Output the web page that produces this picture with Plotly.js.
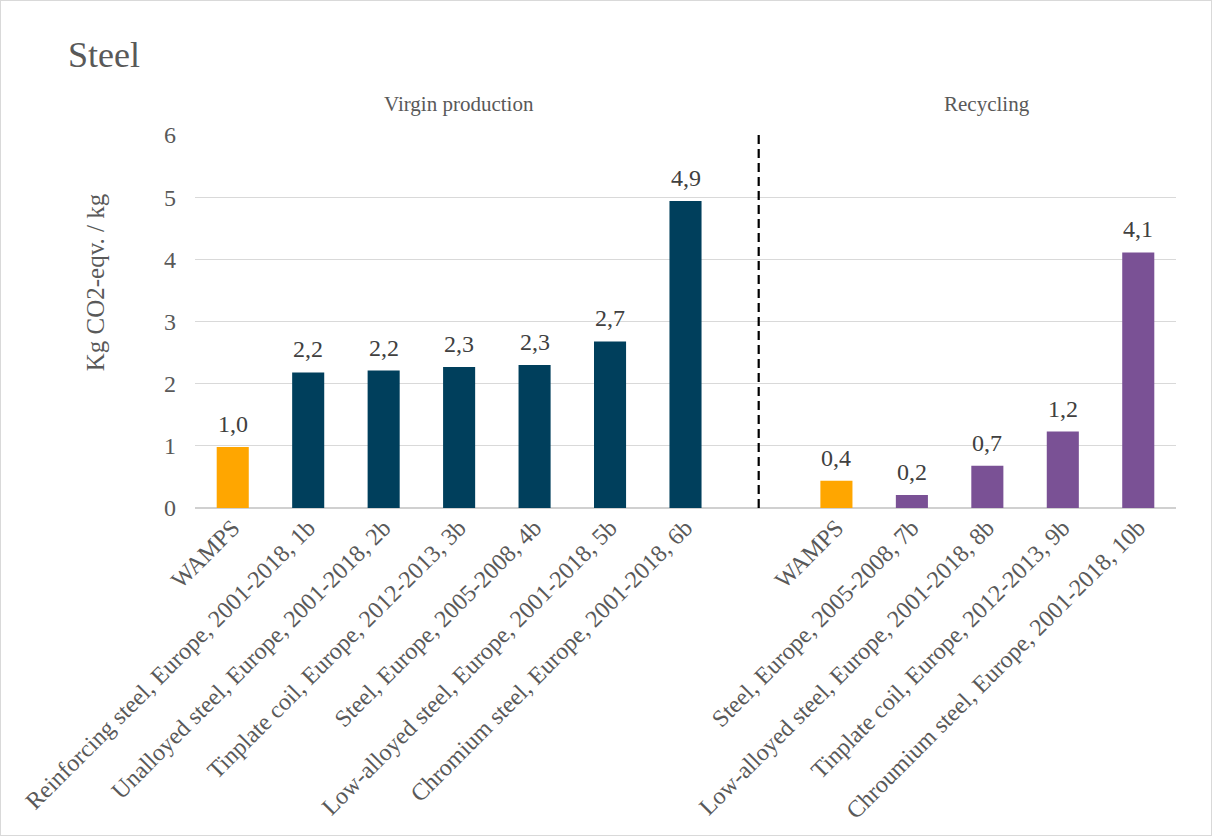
<!DOCTYPE html>
<html>
<head>
<meta charset="utf-8">
<script src="https://cdn.plot.ly/plotly-3.0.1.min.js"></script>
<style>
  html, body { margin: 0; padding: 0; background: #fff; }
  #chart { width: 1210px; height: 834px; border: 1px solid #d9d9d9; }
</style>
</head>
<body>
<div id="chart"></div>
<script>
// ---- data ----
const virginLabels = [
  "WAMPS",
  "Reinforcing steel, Europe, 2001-2018, 1b",
  "Unalloyed steel, Europe, 2001-2018, 2b",
  "Tinplate coil, Europe, 2012-2013, 3b",
  "Steel, Europe, 2005-2008, 4b",
  "Low-alloyed steel, Europe, 2001-2018, 5b",
  "Chromium steel, Europe, 2001-2018, 6b"
];
const virginValues = [0.98, 2.18, 2.21, 2.27, 2.30, 2.68, 4.94];

const recyclingLabels = [
  "WAMPS",
  "Steel, Europe, 2005-2008, 7b",
  "Low-alloyed steel, Europe, 2001-2018, 8b",
  "Tinplate coil, Europe, 2012-2013, 9b",
  "Chroumium steel, Europe, 2001-2018, 10b"
];
const recyclingValues = [0.44, 0.21, 0.68, 1.23, 4.11];

const groupLabels = ["Virgin production", "Recycling"];
const yTickValues = [0, 1, 2, 3, 4, 5, 6];
const chartTitle = "Steel";
const yAxisTitle = "Kg CO2-eqv. / kg";

// ---- styles ----
const FONT = '"Liberation Serif", "Times New Roman", Times, serif';
const C_WAMPS = "#ffa600";
const C_VIRGIN = "#003f5c";
const C_RECYC = "#7a5195";
const C_TEXT = "#595959";
const C_VAL = "#404040";

const virginKeys = virginLabels.map((_, i) => "v" + i);
const recyclingKeys = recyclingLabels.map((_, i) => "r" + i);
const gapKey = "gap";
const allKeys = [...virginKeys, gapKey, ...recyclingKeys];
const allText = [...virginLabels, "", ...recyclingLabels];

const colorFor = (labels, base) => labels.map(l => l === "WAMPS" ? C_WAMPS : base);

const traces = [
  {
    type: "bar",
    x: virginKeys,
    y: virginValues,
    marker: { color: colorFor(virginLabels, C_VIRGIN) },
    hoverinfo: "y",
    showlegend: false
  },
  {
    type: "bar",
    x: recyclingKeys,
    y: recyclingValues,
    marker: { color: colorFor(recyclingLabels, C_RECYC) },
    hoverinfo: "y",
    showlegend: false
  }
];

const fmt = v => v.toFixed(1).replace(".", ",");
const valueAnnotations = [
  ...virginKeys.map((k, i) => ({ x: k, y: virginValues[i], text: fmt(virginValues[i]) })),
  ...recyclingKeys.map((k, i) => ({ x: k, y: recyclingValues[i], text: fmt(recyclingValues[i]) }))
].map(a => Object.assign(a, {
  xref: "x", yref: "y", showarrow: false, yanchor: "bottom", yshift: 8,
  font: { family: FONT, size: 24, color: C_VAL }
}));

const gapIndex = virginLabels.length;
const groupAnnotations = [
  { x: (virginLabels.length - 1) / 2, text: groupLabels[0] },
  { x: gapIndex + 1 + (recyclingLabels.length - 1) / 2, text: groupLabels[1] }
].map(a => Object.assign(a, {
  xref: "x", yref: "paper", y: 1.083, yanchor: "middle", showarrow: false,
  font: { family: FONT, size: 21, color: C_TEXT }
}));

const yTitleAnnotation = {
  xref: "paper", yref: "paper", x: -0.102, y: 0.605,
  xanchor: "center", yanchor: "middle", textangle: -90, showarrow: false,
  text: yAxisTitle, font: { family: FONT, size: 25, color: C_TEXT }
};

const layout = {
  width: 1210,
  height: 834,
  paper_bgcolor: "#ffffff",
  plot_bgcolor: "#ffffff",
  margin: { l: 194, r: 35, t: 134, b: 327, pad: 0 },
  font: { family: FONT, color: C_TEXT },
  title: {
    text: chartTitle,
    xref: "container", yref: "container",
    x: 67 / 1210, xanchor: "left",
    y: 1 - 53 / 834, yanchor: "middle",
    font: { family: FONT, size: 36, color: C_TEXT }
  },
  barmode: "overlay",
  bargap: 0.575,
  showlegend: false,
  xaxis: {
    type: "category",
    categoryorder: "array",
    categoryarray: allKeys,
    tickmode: "array",
    tickvals: allKeys,
    ticktext: allText,
    tickangle: -45,
    tickfont: { family: FONT, size: 24, color: C_TEXT },
    showgrid: false,
    showline: false,
    ticks: "",
    zeroline: false,
    fixedrange: true
  },
  yaxis: {
    range: [0, 6],
    tickmode: "array",
    tickvals: yTickValues,
    ticktext: yTickValues.map(String),
    tickfont: { family: FONT, size: 24, color: C_TEXT },
    ticklabelstandoff: 18,
    showgrid: true,
    gridcolor: "#d9d9d9",
    gridwidth: 1.3,
    zeroline: true,
    zerolinecolor: "#d0d0d0",
    zerolinewidth: 1.6,
    showline: false,
    ticks: "",
    fixedrange: true
  },
  shapes: [
    {
      type: "line", xref: "x", yref: "paper",
      x0: gapIndex - 0.03, x1: gapIndex - 0.03, y0: 0, y1: 1,
      line: { color: "#000000", width: 2.2, dash: "9px,5px" }
    }
  ],
  annotations: [...valueAnnotations, ...groupAnnotations, yTitleAnnotation]
};

Plotly.newPlot("chart", traces, layout, { displayModeBar: false, staticPlot: true });
</script>
</body>
</html>
